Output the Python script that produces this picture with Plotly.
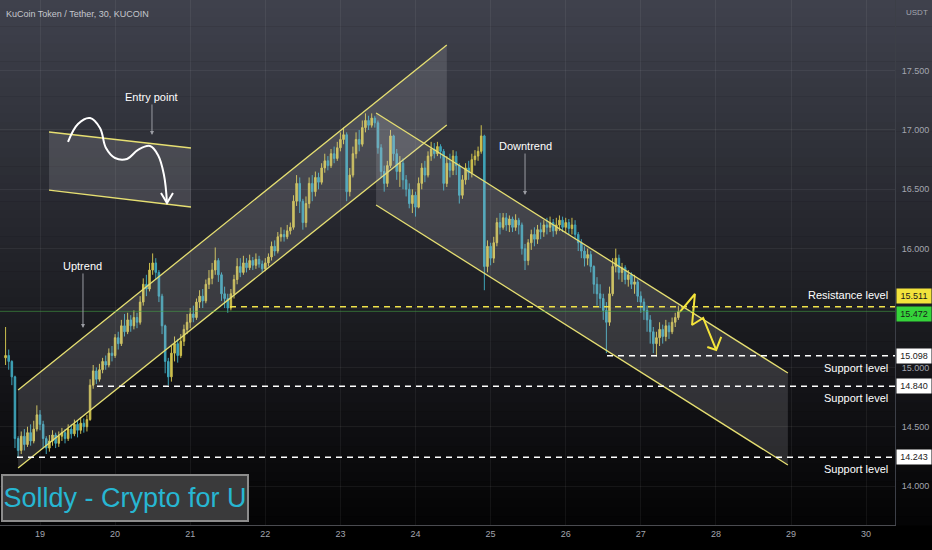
import plotly.graph_objects as go
import pandas as pd

# ---------------- data ----------------
start_time = "2022-03-18 13:00"   # hourly candles
first_open = 15.08
closes = [
15.10,15.05,14.92,14.40,14.30,14.42,14.35,14.45,14.38,14.48,
14.60,14.52,14.40,14.32,14.38,14.43,14.36,14.42,14.45,14.40,
14.48,14.44,14.52,14.47,14.53,14.50,14.56,14.85,14.97,14.90,
14.98,15.05,15.02,15.12,15.10,15.25,15.20,15.35,15.30,15.40,
15.35,15.42,15.38,15.55,15.70,15.66,15.82,15.88,15.80,15.60,
15.35,15.05,14.92,15.12,15.20,15.10,15.22,15.32,15.38,15.45,
15.42,15.55,15.60,15.56,15.70,15.75,15.82,15.90,15.78,15.62,
15.58,15.50,15.62,15.74,15.85,15.80,15.88,15.84,15.90,15.86,
15.91,15.87,15.83,15.88,15.93,16.02,15.98,16.10,16.12,16.10,
16.15,16.18,16.40,16.55,16.40,16.22,16.38,16.55,16.48,16.60,
16.56,16.68,16.74,16.70,16.80,16.76,16.85,16.92,16.96,16.48,
16.62,16.80,16.92,16.88,17.02,17.08,17.04,17.10,17.06,16.85,
16.65,16.55,16.70,16.95,16.80,16.65,16.72,16.58,16.50,16.38,
16.45,16.35,16.55,16.68,16.62,16.78,16.84,16.80,16.86,16.82,
16.55,16.72,16.66,16.78,16.70,16.45,16.58,16.68,16.64,16.75,
16.78,16.82,16.95,15.85,16.02,15.92,16.05,16.22,16.18,16.26,
16.20,16.25,16.18,16.24,16.20,16.00,15.90,16.05,16.12,16.08,
16.16,16.14,16.20,16.18,16.22,16.15,16.20,16.24,16.18,16.22,
16.17,16.20,16.12,16.05,15.98,15.92,15.95,15.85,15.70,15.62,
15.58,15.48,15.38,15.62,15.85,15.92,15.80,15.84,15.74,15.78,
15.70,15.72,15.60,15.55,15.48,15.40,15.30,15.20,15.25,15.32,
15.26,15.35,15.30,15.38,15.42,15.47]
highs = [
15.34,15.15,15.06,14.93,14.42,14.46,14.48,14.50,14.52,14.55,
14.68,14.64,14.55,14.42,14.43,14.47,14.45,14.46,14.49,14.48,
14.52,14.52,14.56,14.55,14.58,14.57,14.60,14.90,15.02,15.00,
15.03,15.08,15.10,15.16,15.18,15.28,15.30,15.40,15.45,15.46,
15.44,15.48,15.46,15.60,15.75,15.78,15.88,15.96,15.92,15.82,
15.62,15.36,15.08,15.18,15.26,15.24,15.28,15.36,15.45,15.50,
15.52,15.58,15.65,15.66,15.74,15.82,15.88,16.01,15.92,15.80,
15.68,15.62,15.66,15.78,15.92,15.92,15.94,15.92,15.95,15.93,
15.96,15.94,15.90,15.92,15.96,16.06,16.07,16.14,16.18,16.16,
16.20,16.22,16.45,16.62,16.60,16.42,16.44,16.60,16.62,16.65,
16.64,16.72,16.80,16.78,16.84,16.86,16.90,16.98,17.02,16.98,
16.68,16.86,16.98,17.00,17.08,17.14,17.12,17.14,17.12,17.08,
16.88,16.70,16.74,17.00,16.96,16.84,16.78,16.76,16.62,16.55,
16.50,16.48,16.60,16.72,16.74,16.82,16.90,16.89,16.90,16.88,
16.84,16.78,16.80,16.83,16.82,16.72,16.62,16.72,16.74,16.80,
16.83,16.86,17.04,16.96,16.07,16.05,16.10,16.26,16.30,16.30,
16.30,16.28,16.27,16.29,16.26,16.22,16.04,16.08,16.16,16.18,
16.20,16.22,16.24,16.26,16.27,16.25,16.26,16.28,16.27,16.26,
16.25,16.26,16.24,16.14,16.08,16.02,16.00,15.98,15.86,15.76,
15.70,15.62,15.55,15.68,15.92,16.00,15.95,15.88,15.86,15.82,
15.80,15.78,15.74,15.64,15.58,15.52,15.44,15.34,15.30,15.38,
15.36,15.40,15.38,15.42,15.46,15.52]
lows = [
15.02,14.98,14.85,14.32,14.24,14.27,14.30,14.33,14.34,14.36,
14.46,14.47,14.32,14.27,14.29,14.34,14.32,14.33,14.38,14.36,
14.38,14.40,14.42,14.41,14.44,14.45,14.46,14.55,14.82,14.86,
14.88,14.95,14.98,15.00,15.05,15.08,15.15,15.18,15.26,15.28,
15.30,15.32,15.33,15.36,15.52,15.60,15.64,15.78,15.74,15.55,
15.28,14.95,14.85,14.88,15.05,15.04,15.08,15.18,15.28,15.33,
15.38,15.40,15.50,15.50,15.54,15.66,15.70,15.78,15.72,15.56,
15.50,15.46,15.48,15.58,15.70,15.76,15.78,15.80,15.82,15.82,
15.83,15.84,15.80,15.81,15.85,15.90,15.94,15.96,16.06,16.06,
16.08,16.12,16.16,16.36,16.30,16.16,16.18,16.34,16.40,16.44,
16.50,16.54,16.64,16.66,16.68,16.72,16.74,16.82,16.88,16.40,
16.44,16.60,16.76,16.82,16.86,16.98,17.00,17.02,17.02,16.80,
16.60,16.48,16.52,16.68,16.74,16.58,16.52,16.50,16.44,16.34,
16.30,16.27,16.34,16.50,16.56,16.60,16.74,16.76,16.78,16.76,
16.49,16.52,16.60,16.62,16.62,16.38,16.42,16.54,16.58,16.60,
16.70,16.74,16.80,15.65,15.80,15.86,15.88,16.02,16.12,16.16,
16.15,16.14,16.14,16.15,16.12,15.95,15.82,15.86,15.99,16.02,
16.04,16.08,16.10,16.12,16.14,16.10,16.12,16.15,16.14,16.13,
16.12,16.12,16.08,15.98,15.92,15.85,15.86,15.80,15.62,15.52,
15.50,15.40,15.12,15.35,15.60,15.80,15.74,15.72,15.70,15.68,
15.66,15.62,15.55,15.46,15.40,15.30,15.20,15.12,15.09,15.18,
15.20,15.22,15.24,15.28,15.34,15.40]

# Axis
x_range = ["2022-03-18 11:13", "2022-03-30 09:14"]
y_range = [13.672, 18.095]
y_ticks = [14.0, 14.5, 15.0, 16.0, 16.5, 17.0, 17.5]   # 15.500 is hidden behind the price boxes
grid_prices = [15.5]

# Drawings (time, price)
up_x = ["2022-03-18 17:00", "2022-03-24 10:00"]
up_top = [14.81, 17.716]
up_bot = [14.152, 17.042]
down_x = ["2022-03-23 11:24", "2022-03-28 23:00"]
down_top = [17.143, 14.953]
down_bot = [16.368, 14.178]
entry_x = ["2022-03-19 02:53", "2022-03-21 00:15"]
entry_top = [16.983, 16.848]
entry_bot = [16.494, 16.351]
curve_x = ["2022-03-19 08:57", "2022-03-19 12:08", "2022-03-19 15:59", "2022-03-19 19:10",
           "2022-03-19 21:05", "2022-03-19 23:58", "2022-03-20 03:48", "2022-03-20 07:19",
           "2022-03-20 11:09", "2022-03-20 13:42", "2022-03-20 15:37", "2022-03-20 16:35"]
curve_y = [16.899, 17.051, 17.101, 17.017, 16.848, 16.764, 16.756, 16.832, 16.865, 16.789, 16.621, 16.385]
curve_head_x = ["2022-03-20 14:40", "2022-03-20 16:35", "2022-03-20 18:30"]
curve_head_y = [16.469, 16.385, 16.469]
zig_x = ["2022-03-27 12:30", "2022-03-27 17:18", "2022-03-27 16:22", "2022-03-27 19:56", "2022-03-28 00:05"]
zig_y = [15.467, 15.618, 15.357, 15.416, 15.147]
zig_head_x = ["2022-03-27 21:15", "2022-03-28 00:05", "2022-03-28 01:42"]
zig_head_y = [15.172, 15.147, 15.256]

resistance_price = 15.511
resistance_start = "2022-03-21 12:43"
support_prices = [15.098, 14.840, 14.243]
support_starts = ["2022-03-26 13:12", "2022-03-19 18:13", "2022-03-18 16:39"]
last_price = 15.472
level_label_prices = [15.61, 14.995, 14.742, 14.144]
level_label_texts = ["Resistance level", "Support level", "Support level", "Support level"]

FONT = "Liberation Sans, Arial, sans-serif"
YEL = "#e6df72"

n = min(len(closes), len(highs), len(lows))
closes, highs, lows = closes[:n], highs[:n], lows[:n]
times = pd.date_range(start_time, periods=n, freq="h")
opens = [first_open] + closes[:-1]
highs = [max(h, o, c) for h, o, c in zip(highs, opens, closes)]
lows = [min(l, o, c) for l, o, c in zip(lows, opens, closes)]

fig = go.Figure()
fig.add_trace(go.Candlestick(
    x=times, open=opens, high=highs, low=lows, close=closes,
    increasing=dict(line=dict(color="#cdbf4e", width=1), fillcolor="#cdbf4e"),
    decreasing=dict(line=dict(color="#3ea3b8", width=1), fillcolor="#3ea3b8"),
    whiskerwidth=0, hoverinfo="skip"))

def channel(xs, top, bot, fill):
    fig.add_trace(go.Scatter(x=[xs[0], xs[1], xs[1], xs[0], xs[0]],
                             y=[top[0], top[1], bot[1], bot[0], top[0]],
                             fill="toself", fillcolor=fill, mode="none", hoverinfo="skip"))
    for ys in (top, bot):
        fig.add_trace(go.Scatter(x=xs, y=ys, mode="lines",
                                 line=dict(color=YEL, width=1.3), hoverinfo="skip"))

channel(up_x, up_top, up_bot, "rgba(210,210,215,0.17)")
channel(down_x, down_top, down_bot, "rgba(210,210,215,0.17)")
channel(entry_x, entry_top, entry_bot, "rgba(210,210,215,0.17)")

fig.add_trace(go.Scatter(x=curve_x, y=curve_y, mode="lines", line=dict(color="white", width=2, shape="spline", smoothing=1.1), hoverinfo="skip"))
fig.add_trace(go.Scatter(x=curve_head_x, y=curve_head_y, mode="lines", line=dict(color="white", width=2), hoverinfo="skip"))
fig.add_trace(go.Scatter(x=zig_x, y=zig_y, mode="lines", line=dict(color="#f4e43a", width=2), hoverinfo="skip"))
fig.add_trace(go.Scatter(x=zig_head_x, y=zig_head_y, mode="lines", line=dict(color="#f4e43a", width=2), hoverinfo="skip"))

shapes = []
# background gradient
N = 60
top_c = (64, 66, 77)
bot_c = (3, 3, 4)
for k in range(N):
    f = (k + 0.5) / N
    c = tuple(int(round(top_c[i] * (1 - f) + bot_c[i] * f)) for i in range(3))
    shapes.append(dict(type="rect", xref="paper", yref="paper", x0=0, x1=1.05,
                       y0=1 - (k + 1) / N - 0.001, y1=1 - k / N,
                       fillcolor="rgb(%d,%d,%d)" % c, line=dict(width=0), layer="below"))
for g in grid_prices:
    shapes.append(dict(type="line", xref="paper", yref="y", x0=0, x1=1, y0=g, y1=g,
                       line=dict(color="rgba(255,255,255,0.06)", width=1), layer="below"))
# last price line
shapes.append(dict(type="line", xref="paper", yref="y", x0=0, x1=1, y0=last_price, y1=last_price,
                   line=dict(color="rgba(70,170,70,0.55)", width=1), layer="above"))
shapes.append(dict(type="line", xref="x", yref="y", x0=resistance_start, x1=x_range[1],
                   y0=resistance_price, y1=resistance_price,
                   line=dict(color="#f0e24a", width=1.5, dash="6px,5px"), layer="above"))
for p, s in zip(support_prices, support_starts):
    shapes.append(dict(type="line", xref="x", yref="y", x0=s, x1=x_range[1], y0=p, y1=p,
                       line=dict(color="white", width=1.5, dash="6px,5px"), layer="above"))

ann = []
ann.append(dict(text="KuCoin Token / Tether, 30, KUCOIN", xref="paper", yref="paper", x=0.004, y=1,
                xanchor="left", yanchor="top", yshift=-7, showarrow=False,
                font=dict(family=FONT, size=9, color="#c5c7cd")))
ann.append(dict(text="USDT", xref="paper", yref="paper", x=1, y=1, xanchor="left", yanchor="top",
                xshift=9, yshift=-6, showarrow=False, font=dict(family=FONT, size=8, color="#a3a6af")))
arrow_notes = [("Entry point", "2022-03-20 11:47", 16.958, -38),
               ("Uptrend", "2022-03-19 13:44", 15.332, -62),
               ("Downtrend", "2022-03-25 11:00", 16.452, -49)]
for t, x, y, ay in arrow_notes:
    ann.append(dict(text=t, x=x, y=y, xref="x", yref="y", ax=0, ay=ay, showarrow=True,
                    arrowcolor="#9a9ca3", arrowwidth=1, arrowhead=2, arrowsize=0.8,
                    font=dict(family=FONT, size=11, color="white")))
for p, t in zip(level_label_prices, level_label_texts):
    ann.append(dict(text=t, xref="paper", yref="y", x=0.9944, y=p, xanchor="right", showarrow=False,
                    font=dict(family=FONT, size=11, color="white")))
price_boxes = [(15.511, "15.511", "#f2e33c", 10.5), (15.472, "15.472", "#35d43a", -3),
               (15.098, "15.098", "white", 0), (14.840, "14.840", "white", 0), (14.243, "14.243", "white", 0)]
for p, t, bg, ysh in price_boxes:
    ann.append(dict(text=t, xref="paper", yref="y", x=1, y=p, xanchor="left", yanchor="middle",
                    xshift=1, yshift=ysh, showarrow=False, bgcolor=bg, width=32, height=12,
                    font=dict(family=FONT, size=9, color="#1a1a1a")))
ann.append(dict(text="Solldy - Crypto for U", xref="paper", yref="paper", x=0.001, y=0.052,
                xanchor="left", yanchor="middle", showarrow=False, bgcolor="#3a3a3b",
                bordercolor="#8c8c8c", borderwidth=2, width=244, height=44, borderpad=0,
                font=dict(family=FONT, size=27, color="#27b6d2")))

fig.update_layout(
    width=932, height=550, margin=dict(l=0, r=37, t=0, b=25),
    paper_bgcolor="#000000", plot_bgcolor="rgba(0,0,0,0)", showlegend=False,
    shapes=shapes, annotations=ann,
    xaxis=dict(type="date", range=x_range, rangeslider=dict(visible=False), showgrid=True,
               gridcolor="rgba(255,255,255,0.06)", dtick=86400000, tick0="2022-03-19",
               tickformat="%d", tickfont=dict(family=FONT, size=9, color="#a3a6af"),
               showline=True, linecolor="#4a4b50", ticks="", zeroline=False),
    yaxis=dict(side="right", range=y_range, tickvals=y_ticks, tickformat=".3f",
               showgrid=True, gridcolor="rgba(255,255,255,0.06)", zeroline=False,
               tickfont=dict(family=FONT, size=9, color="#a3a6af"),
               showline=True, linecolor="#3c3f47", ticks="", ticklabelstandoff=4),
)
fig.write_html("out.html", config={"displayModeBar": False},
               post_script="document.body.style.margin='0';document.body.style.background='#000';")
